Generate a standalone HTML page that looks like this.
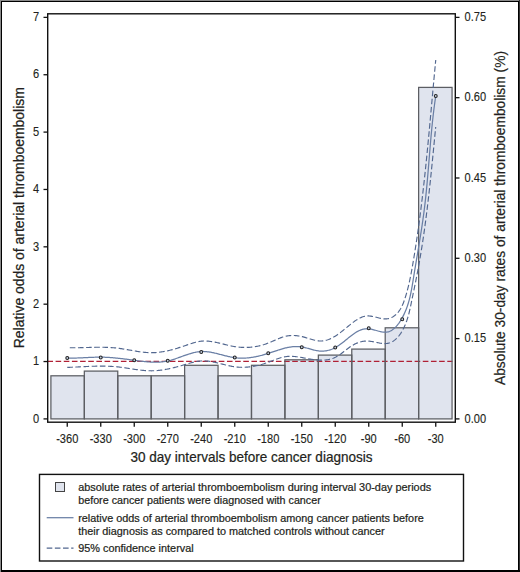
<!DOCTYPE html>
<html><head><meta charset="utf-8"><title>Chart</title>
<style>html,body{margin:0;padding:0;background:#fff;width:520px;height:572px;overflow:hidden}</style>
</head><body>
<svg width="520" height="572" viewBox="0 0 520 572" style="display:block">
<rect x="0" y="0" width="520" height="572" fill="#fff"/>
<rect x="50.90" y="375.80" width="33.43" height="43.10" fill="#e0e4ee"/>
<rect x="84.33" y="371.10" width="33.43" height="47.80" fill="#e0e4ee"/>
<rect x="117.76" y="375.80" width="33.43" height="43.10" fill="#e0e4ee"/>
<rect x="151.19" y="375.80" width="33.43" height="43.10" fill="#e0e4ee"/>
<rect x="184.62" y="365.30" width="33.43" height="53.60" fill="#e0e4ee"/>
<rect x="218.05" y="375.80" width="33.43" height="43.10" fill="#e0e4ee"/>
<rect x="251.48" y="365.30" width="33.43" height="53.60" fill="#e0e4ee"/>
<rect x="284.91" y="359.80" width="33.43" height="59.10" fill="#e0e4ee"/>
<rect x="318.34" y="355.10" width="33.43" height="63.80" fill="#e0e4ee"/>
<rect x="351.77" y="349.10" width="33.43" height="69.80" fill="#e0e4ee"/>
<rect x="385.20" y="327.80" width="33.43" height="91.10" fill="#e0e4ee"/>
<rect x="418.63" y="87.40" width="33.43" height="331.50" fill="#e0e4ee"/>
<line x1="47.7" y1="361.45" x2="452.5" y2="361.45" stroke="#b02035" stroke-width="1.3" stroke-dasharray="5.6 2.56" stroke-dashoffset="0.27"/>
<rect x="50.90" y="375.80" width="33.43" height="43.10" fill="none" stroke="#5c5e63" stroke-width="1.25"/>
<rect x="84.33" y="371.10" width="33.43" height="47.80" fill="none" stroke="#5c5e63" stroke-width="1.25"/>
<rect x="117.76" y="375.80" width="33.43" height="43.10" fill="none" stroke="#5c5e63" stroke-width="1.25"/>
<rect x="151.19" y="375.80" width="33.43" height="43.10" fill="none" stroke="#5c5e63" stroke-width="1.25"/>
<rect x="184.62" y="365.30" width="33.43" height="53.60" fill="none" stroke="#5c5e63" stroke-width="1.25"/>
<rect x="218.05" y="375.80" width="33.43" height="43.10" fill="none" stroke="#5c5e63" stroke-width="1.25"/>
<rect x="251.48" y="365.30" width="33.43" height="53.60" fill="none" stroke="#5c5e63" stroke-width="1.25"/>
<rect x="284.91" y="359.80" width="33.43" height="59.10" fill="none" stroke="#5c5e63" stroke-width="1.25"/>
<rect x="318.34" y="355.10" width="33.43" height="63.80" fill="none" stroke="#5c5e63" stroke-width="1.25"/>
<rect x="351.77" y="349.10" width="33.43" height="69.80" fill="none" stroke="#5c5e63" stroke-width="1.25"/>
<rect x="385.20" y="327.80" width="33.43" height="91.10" fill="none" stroke="#5c5e63" stroke-width="1.25"/>
<rect x="418.63" y="87.40" width="33.43" height="331.50" fill="none" stroke="#5c5e63" stroke-width="1.25"/>
<path d="M67.25,347.70 L68.12,347.72 L68.98,347.74 L69.85,347.75 L70.71,347.76 L71.58,347.77 L72.44,347.77 L73.31,347.77 L74.17,347.77 L75.03,347.77 L75.89,347.76 L76.76,347.75 L77.62,347.73 L78.48,347.72 L79.34,347.70 L80.20,347.68 L81.06,347.66 L81.92,347.64 L82.78,347.62 L83.64,347.60 L84.50,347.58 L85.36,347.55 L86.22,347.53 L87.08,347.50 L87.94,347.48 L88.80,347.45 L89.65,347.43 L90.51,347.41 L91.37,347.38 L92.23,347.36 L93.09,347.34 L93.94,347.33 L94.80,347.31 L95.66,347.30 L96.52,347.28 L97.37,347.27 L98.23,347.26 L99.09,347.26 L99.94,347.26 L100.80,347.26 L101.66,347.26 L102.51,347.27 L103.37,347.28 L104.23,347.29 L105.09,347.31 L105.94,347.34 L106.80,347.36 L107.66,347.40 L108.52,347.43 L109.37,347.48 L110.23,347.52 L111.09,347.57 L111.95,347.63 L112.81,347.70 L113.66,347.77 L114.52,347.84 L115.38,347.92 L116.24,348.01 L117.10,348.11 L117.96,348.21 L118.82,348.32 L119.68,348.44 L120.54,348.56 L121.40,348.69 L122.26,348.82 L123.12,348.95 L123.98,349.09 L124.84,349.24 L125.70,349.38 L126.56,349.53 L127.42,349.68 L128.28,349.83 L129.15,349.98 L130.01,350.14 L130.87,350.29 L131.73,350.44 L132.59,350.59 L133.45,350.74 L134.31,350.89 L135.16,351.04 L136.02,351.18 L136.88,351.32 L137.74,351.46 L138.60,351.59 L139.46,351.71 L140.31,351.83 L141.17,351.95 L142.02,352.06 L142.88,352.16 L143.74,352.25 L144.59,352.34 L145.44,352.42 L146.30,352.49 L147.15,352.55 L148.00,352.60 L148.85,352.64 L149.70,352.67 L150.55,352.69 L151.40,352.70 L152.25,352.69 L153.10,352.68 L153.94,352.65 L154.79,352.61 L155.63,352.56 L156.48,352.50 L157.32,352.43 L158.16,352.35 L159.00,352.25 L159.85,352.15 L160.69,352.04 L161.53,351.92 L162.37,351.79 L163.21,351.66 L164.04,351.51 L164.88,351.35 L165.72,351.19 L166.56,351.02 L167.39,350.84 L168.23,350.66 L169.06,350.46 L169.90,350.26 L170.73,350.05 L171.57,349.84 L172.40,349.62 L173.23,349.39 L174.07,349.16 L174.90,348.92 L175.73,348.68 L176.56,348.43 L177.39,348.18 L178.23,347.92 L179.06,347.66 L179.89,347.39 L180.72,347.12 L181.55,346.85 L182.38,346.57 L183.21,346.29 L184.04,346.00 L184.87,345.71 L185.70,345.42 L186.53,345.13 L187.36,344.84 L188.19,344.55 L189.02,344.27 L189.85,343.99 L190.68,343.71 L191.51,343.44 L192.34,343.18 L193.17,342.92 L194.00,342.68 L194.83,342.45 L195.66,342.23 L196.50,342.02 L197.33,341.84 L198.17,341.66 L199.00,341.51 L199.84,341.37 L200.67,341.26 L201.51,341.17 L202.35,341.10 L203.19,341.05 L204.03,341.02 L204.87,341.01 L205.71,341.02 L206.56,341.05 L207.40,341.10 L208.24,341.16 L209.09,341.24 L209.93,341.34 L210.78,341.45 L211.63,341.57 L212.48,341.70 L213.33,341.84 L214.17,342.00 L215.02,342.16 L215.87,342.34 L216.73,342.52 L217.58,342.71 L218.43,342.90 L219.28,343.10 L220.13,343.30 L220.99,343.51 L221.84,343.72 L222.69,343.93 L223.55,344.14 L224.40,344.36 L225.26,344.57 L226.11,344.78 L226.97,344.98 L227.82,345.19 L228.68,345.39 L229.53,345.58 L230.39,345.77 L231.24,345.95 L232.10,346.13 L232.96,346.29 L233.81,346.45 L234.67,346.59 L235.52,346.72 L236.38,346.85 L237.24,346.96 L238.09,347.06 L238.95,347.15 L239.80,347.22 L240.66,347.29 L241.51,347.34 L242.36,347.38 L243.22,347.41 L244.07,347.43 L244.92,347.44 L245.77,347.44 L246.62,347.42 L247.47,347.40 L248.32,347.36 L249.17,347.31 L250.02,347.25 L250.87,347.18 L251.71,347.09 L252.56,347.00 L253.40,346.89 L254.24,346.77 L255.08,346.64 L255.92,346.50 L256.76,346.35 L257.60,346.19 L258.43,346.01 L259.27,345.83 L260.10,345.63 L260.93,345.42 L261.76,345.20 L262.59,344.97 L263.41,344.72 L264.24,344.47 L265.06,344.20 L265.88,343.92 L266.70,343.63 L267.52,343.33 L268.33,343.02 L269.14,342.70 L269.95,342.36 L270.76,342.02 L271.57,341.68 L272.38,341.32 L273.18,340.97 L273.99,340.61 L274.79,340.26 L275.59,339.90 L276.40,339.55 L277.20,339.20 L278.01,338.86 L278.81,338.53 L279.62,338.21 L280.42,337.90 L281.23,337.60 L282.04,337.32 L282.85,337.05 L283.66,336.80 L284.48,336.57 L285.30,336.37 L286.12,336.18 L286.94,336.02 L287.77,335.87 L288.60,335.75 L289.43,335.65 L290.26,335.58 L291.10,335.52 L291.94,335.49 L292.78,335.47 L293.63,335.48 L294.48,335.51 L295.33,335.56 L296.19,335.63 L297.05,335.72 L297.91,335.83 L298.78,335.96 L299.65,336.11 L300.52,336.28 L301.40,336.47 L302.28,336.68 L303.17,336.91 L304.06,337.15 L304.95,337.40 L305.84,337.67 L306.73,337.94 L307.62,338.21 L308.52,338.49 L309.41,338.76 L310.30,339.03 L311.19,339.29 L312.08,339.55 L312.96,339.79 L313.84,340.01 L314.72,340.22 L315.59,340.41 L316.45,340.58 L317.31,340.72 L318.16,340.83 L319.01,340.91 L319.84,340.96 L320.67,340.97 L321.50,340.95 L322.31,340.90 L323.12,340.82 L323.92,340.71 L324.71,340.57 L325.50,340.41 L326.28,340.21 L327.05,339.99 L327.82,339.75 L328.59,339.48 L329.34,339.19 L330.10,338.88 L330.85,338.54 L331.59,338.19 L332.33,337.81 L333.06,337.42 L333.79,337.01 L334.52,336.58 L335.24,336.14 L335.96,335.68 L336.67,335.21 L337.39,334.72 L338.09,334.22 L338.80,333.72 L339.51,333.20 L340.21,332.67 L340.91,332.13 L341.61,331.59 L342.30,331.04 L343.00,330.49 L343.69,329.92 L344.39,329.36 L345.08,328.79 L345.77,328.23 L346.46,327.66 L347.16,327.09 L347.85,326.52 L348.54,325.95 L349.23,325.39 L349.93,324.83 L350.62,324.27 L351.32,323.72 L352.01,323.18 L352.71,322.64 L353.41,322.11 L354.12,321.60 L354.82,321.09 L355.53,320.60 L356.25,320.12 L356.96,319.66 L357.68,319.22 L358.41,318.80 L359.14,318.40 L359.88,318.02 L360.62,317.68 L361.38,317.35 L362.13,317.06 L362.90,316.79 L363.67,316.56 L364.45,316.36 L365.25,316.20 L366.05,316.08 L366.86,315.99 L367.68,315.94 L368.51,315.94 L369.35,315.98 L370.20,316.06 L371.06,316.17 L371.93,316.31 L372.80,316.48 L373.68,316.67 L374.57,316.87 L375.45,317.09 L376.34,317.31 L377.23,317.54 L378.12,317.76 L379.00,317.98 L379.88,318.19 L380.76,318.38 L381.63,318.55 L382.50,318.69 L383.35,318.81 L384.20,318.89 L385.04,318.93 L385.87,318.93 L386.68,318.88 L387.48,318.79 L388.27,318.65 L389.04,318.46 L389.80,318.23 L390.54,317.96 L391.27,317.65 L391.99,317.30 L392.68,316.92 L393.37,316.50 L394.04,316.04 L394.69,315.55 L395.33,315.03 L395.94,314.49 L396.55,313.91 L397.13,313.31 L397.70,312.68 L398.25,312.03 L398.78,311.36 L399.30,310.67 L399.79,309.95 L400.27,309.22 L400.73,308.48 L401.16,307.72 L401.58,306.95 L401.98,306.16 L402.36,305.37 L402.71,304.57 L403.05,303.76 L403.38,302.94 L403.69,302.12 L403.99,301.30 L404.28,300.47 L404.56,299.64 L404.84,298.81 L405.11,297.98 L405.37,297.15 L405.63,296.32 L405.89,295.48 L406.14,294.65 L406.38,293.82 L406.62,292.98 L406.86,292.15 L407.09,291.31 L407.31,290.48 L407.54,289.64 L407.75,288.81 L407.97,287.97 L408.18,287.13 L408.38,286.29 L408.58,285.46 L408.78,284.62 L408.97,283.78 L409.17,282.94 L409.35,282.10 L409.54,281.26 L409.72,280.42 L409.90,279.58 L410.07,278.73 L410.25,277.89 L410.42,277.05 L410.59,276.21 L410.75,275.36 L410.91,274.52 L411.08,273.68 L411.24,272.83 L411.39,271.99 L411.55,271.14 L411.70,270.30 L411.86,269.46 L412.01,268.61 L412.16,267.77 L412.31,266.92 L412.45,266.07 L412.60,265.23 L412.75,264.38 L412.89,263.54 L413.04,262.69 L413.18,261.84 L413.32,261.00 L413.47,260.15 L413.61,259.30 L413.75,258.46 L413.89,257.61 L414.03,256.76 L414.17,255.91 L414.31,255.07 L414.44,254.22 L414.58,253.37 L414.72,252.52 L414.85,251.67 L414.99,250.83 L415.12,249.98 L415.26,249.13 L415.39,248.28 L415.52,247.43 L415.66,246.58 L415.79,245.73 L415.92,244.88 L416.05,244.03 L416.18,243.18 L416.31,242.33 L416.43,241.48 L416.56,240.63 L416.69,239.78 L416.82,238.93 L416.94,238.08 L417.07,237.23 L417.19,236.38 L417.32,235.53 L417.44,234.68 L417.56,233.83 L417.68,232.98 L417.81,232.13 L417.93,231.28 L418.05,230.42 L418.17,229.57 L418.29,228.72 L418.41,227.87 L418.52,227.02 L418.64,226.16 L418.76,225.31 L418.88,224.46 L418.99,223.61 L419.11,222.75 L419.22,221.90 L419.34,221.05 L419.45,220.20 L419.57,219.34 L419.68,218.49 L419.79,217.64 L419.90,216.78 L420.02,215.93 L420.13,215.08 L420.24,214.22 L420.35,213.37 L420.46,212.52 L420.57,211.66 L420.67,210.81 L420.78,209.95 L420.89,209.10 L421.00,208.25 L421.10,207.39 L421.21,206.54 L421.32,205.68 L421.42,204.83 L421.53,203.97 L421.63,203.12 L421.74,202.26 L421.84,201.41 L421.94,200.55 L422.05,199.70 L422.15,198.84 L422.25,197.99 L422.35,197.13 L422.45,196.28 L422.55,195.42 L422.65,194.57 L422.75,193.71 L422.85,192.86 L422.95,192.00 L423.05,191.14 L423.15,190.29 L423.25,189.43 L423.34,188.58 L423.44,187.72 L423.54,186.86 L423.63,186.01 L423.73,185.15 L423.83,184.29 L423.92,183.44 L424.02,182.58 L424.11,181.73 L424.20,180.87 L424.30,180.01 L424.39,179.16 L424.49,178.30 L424.58,177.44 L424.67,176.59 L424.76,175.73 L424.85,174.87 L424.95,174.01 L425.04,173.16 L425.13,172.30 L425.22,171.44 L425.31,170.59 L425.40,169.73 L425.49,168.87 L425.58,168.01 L425.67,167.16 L425.76,166.30 L425.84,165.44 L425.93,164.58 L426.02,163.73 L426.11,162.87 L426.20,162.01 L426.28,161.15 L426.37,160.30 L426.46,159.44 L426.54,158.58 L426.63,157.72 L426.72,156.86 L426.80,156.01 L426.89,155.15 L426.97,154.29 L427.06,153.43 L427.14,152.58 L427.23,151.72 L427.31,150.86 L427.39,150.00 L427.48,149.14 L427.56,148.29 L427.65,147.43 L427.73,146.57 L427.81,145.71 L427.89,144.85 L427.98,143.99 L428.06,143.14 L428.14,142.28 L428.22,141.42 L428.31,140.56 L428.39,139.70 L428.47,138.85 L428.55,137.99 L428.63,137.13 L428.71,136.27 L428.79,135.41 L428.87,134.55 L428.96,133.70 L429.04,132.84 L429.12,131.98 L429.20,131.12 L429.28,130.26 L429.36,129.41 L429.44,128.55 L429.52,127.69 L429.60,126.83 L429.68,125.97 L429.75,125.11 L429.83,124.26 L429.91,123.40 L429.99,122.54 L430.07,121.68 L430.15,120.82 L430.23,119.97 L430.31,119.11 L430.39,118.25 L430.46,117.39 L430.54,116.53 L430.62,115.68 L430.70,114.82 L430.78,113.96 L430.86,113.10 L430.93,112.24 L431.01,111.39 L431.09,110.53 L431.17,109.67 L431.25,108.81 L431.32,107.96 L431.40,107.10 L431.48,106.24 L431.56,105.38 L431.64,104.52 L431.71,103.67 L431.79,102.81 L431.87,101.95 L431.95,101.09 L432.03,100.24 L432.10,99.38 L432.18,98.52 L432.26,97.66 L432.34,96.81 L432.41,95.95 L432.49,95.09 L432.57,94.24 L432.65,93.38 L432.73,92.52 L432.80,91.66 L432.88,90.81 L432.96,89.95 L433.04,89.09 L433.12,88.24 L433.20,87.38 L433.27,86.52 L433.35,85.67 L433.43,84.81 L433.51,83.95 L433.59,83.10 L433.67,82.24 L433.74,81.39 L433.82,80.53 L433.90,79.67 L433.98,78.82 L434.06,77.96 L434.14,77.10 L434.22,76.25 L434.30,75.39 L434.38,74.54 L434.46,73.68 L434.54,72.83 L434.62,71.97 L434.70,71.11 L434.78,70.26 L434.86,69.40 L434.94,68.55 L435.02,67.69 L435.10,66.84 L435.18,65.98 L435.26,65.13 L435.34,64.27 L435.42,63.42 L435.50,62.56 L435.58,61.71 L435.67,60.86 L435.75,60.00" fill="none" stroke="#52678f" stroke-width="1.15" stroke-dasharray="5.6 2.56" stroke-dashoffset="5.62"/>
<path d="M67.25,367.40 L68.05,367.37 L68.84,367.34 L69.64,367.31 L70.44,367.28 L71.23,367.25 L72.03,367.21 L72.83,367.18 L73.62,367.14 L74.42,367.11 L75.22,367.07 L76.01,367.03 L76.81,366.99 L77.60,366.95 L78.40,366.91 L79.19,366.87 L79.99,366.83 L80.78,366.79 L81.58,366.75 L82.37,366.71 L83.17,366.67 L83.96,366.64 L84.76,366.60 L85.55,366.56 L86.34,366.52 L87.14,366.49 L87.93,366.45 L88.73,366.42 L89.52,366.38 L90.31,366.35 L91.11,366.32 L91.90,366.29 L92.70,366.27 L93.49,366.24 L94.28,366.22 L95.08,366.20 L95.87,366.18 L96.66,366.16 L97.46,366.15 L98.25,366.13 L99.04,366.12 L99.84,366.12 L100.63,366.11 L101.42,366.11 L102.22,366.11 L103.01,366.12 L103.80,366.12 L104.60,366.14 L105.39,366.15 L106.19,366.17 L106.98,366.19 L107.77,366.22 L108.57,366.25 L109.36,366.28 L110.16,366.32 L110.95,366.36 L111.74,366.41 L112.54,366.46 L113.33,366.51 L114.13,366.57 L114.92,366.64 L115.72,366.71 L116.51,366.78 L117.31,366.86 L118.10,366.94 L118.90,367.03 L119.69,367.13 L120.49,367.23 L121.28,367.33 L122.08,367.44 L122.87,367.55 L123.67,367.66 L124.46,367.77 L125.26,367.89 L126.05,368.01 L126.85,368.13 L127.65,368.25 L128.44,368.37 L129.24,368.50 L130.03,368.62 L130.83,368.75 L131.62,368.87 L132.42,368.99 L133.21,369.11 L134.00,369.23 L134.80,369.35 L135.59,369.46 L136.39,369.58 L137.18,369.69 L137.97,369.80 L138.77,369.90 L139.56,370.00 L140.35,370.09 L141.14,370.19 L141.94,370.27 L142.73,370.35 L143.52,370.43 L144.31,370.50 L145.10,370.56 L145.89,370.62 L146.68,370.67 L147.47,370.71 L148.26,370.74 L149.05,370.77 L149.83,370.79 L150.62,370.80 L151.41,370.80 L152.19,370.79 L152.98,370.78 L153.76,370.75 L154.55,370.72 L155.33,370.67 L156.12,370.62 L156.90,370.57 L157.68,370.50 L158.47,370.42 L159.25,370.34 L160.03,370.25 L160.81,370.16 L161.59,370.06 L162.37,369.95 L163.15,369.83 L163.93,369.71 L164.71,369.58 L165.49,369.44 L166.27,369.30 L167.05,369.16 L167.83,369.00 L168.61,368.85 L169.38,368.68 L170.16,368.51 L170.94,368.34 L171.72,368.16 L172.49,367.98 L173.27,367.80 L174.05,367.61 L174.82,367.41 L175.60,367.21 L176.37,367.01 L177.15,366.81 L177.93,366.60 L178.70,366.39 L179.48,366.17 L180.25,365.96 L181.03,365.74 L181.80,365.52 L182.58,365.29 L183.35,365.06 L184.12,364.84 L184.90,364.61 L185.67,364.38 L186.45,364.14 L187.22,363.91 L188.00,363.69 L188.77,363.46 L189.55,363.24 L190.32,363.02 L191.10,362.80 L191.87,362.60 L192.65,362.40 L193.42,362.21 L194.20,362.02 L194.97,361.85 L195.75,361.69 L196.53,361.54 L197.31,361.41 L198.08,361.28 L198.86,361.18 L199.64,361.08 L200.42,361.01 L201.20,360.95 L201.98,360.91 L202.76,360.89 L203.54,360.89 L204.33,360.90 L205.11,360.93 L205.89,360.97 L206.67,361.03 L207.46,361.11 L208.24,361.19 L209.03,361.29 L209.81,361.40 L210.60,361.52 L211.38,361.65 L212.17,361.79 L212.96,361.94 L213.74,362.10 L214.53,362.26 L215.32,362.43 L216.10,362.61 L216.89,362.79 L217.68,362.98 L218.47,363.17 L219.26,363.36 L220.04,363.56 L220.83,363.76 L221.62,363.96 L222.41,364.16 L223.20,364.36 L223.99,364.56 L224.77,364.75 L225.56,364.95 L226.35,365.14 L227.14,365.32 L227.93,365.51 L228.72,365.68 L229.50,365.85 L230.29,366.02 L231.08,366.17 L231.87,366.32 L232.65,366.46 L233.44,366.59 L234.23,366.71 L235.01,366.82 L235.80,366.92 L236.58,367.00 L237.37,367.08 L238.15,367.14 L238.94,367.20 L239.72,367.24 L240.51,367.27 L241.29,367.29 L242.07,367.30 L242.86,367.29 L243.64,367.28 L244.42,367.26 L245.20,367.23 L245.98,367.19 L246.76,367.14 L247.54,367.07 L248.32,367.00 L249.10,366.92 L249.88,366.83 L250.66,366.73 L251.44,366.62 L252.22,366.51 L253.00,366.38 L253.77,366.24 L254.55,366.10 L255.32,365.95 L256.10,365.79 L256.88,365.62 L257.65,365.44 L258.42,365.26 L259.20,365.06 L259.97,364.86 L260.74,364.65 L261.52,364.44 L262.29,364.22 L263.06,363.98 L263.83,363.75 L264.60,363.50 L265.37,363.25 L266.14,362.99 L266.91,362.73 L267.67,362.45 L268.44,362.18 L269.21,361.89 L269.97,361.60 L270.74,361.31 L271.51,361.01 L272.27,360.72 L273.04,360.42 L273.80,360.13 L274.57,359.83 L275.33,359.55 L276.10,359.26 L276.86,358.98 L277.63,358.71 L278.39,358.45 L279.16,358.20 L279.93,357.96 L280.70,357.73 L281.47,357.52 L282.23,357.32 L283.01,357.14 L283.78,356.97 L284.55,356.82 L285.32,356.70 L286.10,356.59 L286.87,356.50 L287.65,356.43 L288.43,356.38 L289.21,356.35 L289.99,356.33 L290.77,356.33 L291.55,356.35 L292.33,356.37 L293.11,356.42 L293.90,356.47 L294.68,356.54 L295.47,356.61 L296.26,356.70 L297.04,356.80 L297.83,356.90 L298.62,357.01 L299.41,357.13 L300.20,357.26 L300.99,357.39 L301.78,357.53 L302.57,357.67 L303.36,357.81 L304.15,357.96 L304.95,358.11 L305.74,358.26 L306.53,358.40 L307.32,358.55 L308.12,358.70 L308.91,358.84 L309.70,358.98 L310.50,359.12 L311.29,359.25 L312.09,359.38 L312.88,359.50 L313.67,359.61 L314.47,359.72 L315.26,359.81 L316.06,359.90 L316.85,359.98 L317.64,360.04 L318.44,360.10 L319.23,360.14 L320.02,360.17 L320.81,360.19 L321.61,360.19 L322.39,360.17 L323.18,360.15 L323.97,360.10 L324.75,360.04 L325.53,359.97 L326.31,359.87 L327.08,359.76 L327.85,359.64 L328.61,359.49 L329.37,359.33 L330.13,359.14 L330.88,358.94 L331.62,358.72 L332.36,358.47 L333.09,358.21 L333.81,357.92 L334.53,357.61 L335.24,357.28 L335.95,356.93 L336.64,356.55 L337.33,356.16 L338.02,355.75 L338.69,355.32 L339.37,354.88 L340.03,354.42 L340.70,353.96 L341.36,353.48 L342.02,352.99 L342.68,352.50 L343.33,352.00 L343.98,351.50 L344.64,350.99 L345.29,350.49 L345.94,349.98 L346.59,349.47 L347.25,348.97 L347.91,348.48 L348.56,347.99 L349.23,347.51 L349.89,347.04 L350.56,346.58 L351.23,346.13 L351.91,345.70 L352.60,345.28 L353.29,344.88 L353.98,344.49 L354.68,344.13 L355.39,343.78 L356.10,343.45 L356.82,343.14 L357.55,342.85 L358.28,342.58 L359.01,342.33 L359.76,342.10 L360.50,341.89 L361.26,341.70 L362.02,341.54 L362.79,341.39 L363.56,341.28 L364.34,341.18 L365.13,341.11 L365.92,341.07 L366.72,341.05 L367.52,341.05 L368.33,341.09 L369.15,341.15 L369.97,341.23 L370.80,341.34 L371.64,341.46 L372.47,341.60 L373.31,341.75 L374.15,341.92 L374.99,342.09 L375.83,342.26 L376.66,342.44 L377.50,342.61 L378.33,342.78 L379.16,342.94 L379.98,343.09 L380.80,343.22 L381.61,343.34 L382.41,343.44 L383.21,343.51 L383.99,343.56 L384.77,343.58 L385.53,343.57 L386.28,343.52 L387.02,343.44 L387.74,343.32 L388.46,343.17 L389.16,342.98 L389.84,342.76 L390.52,342.50 L391.18,342.22 L391.83,341.90 L392.47,341.56 L393.09,341.19 L393.70,340.79 L394.30,340.36 L394.89,339.91 L395.47,339.44 L396.03,338.94 L396.58,338.42 L397.12,337.87 L397.65,337.31 L398.17,336.73 L398.67,336.13 L399.17,335.51 L399.65,334.87 L400.12,334.22 L400.58,333.56 L401.02,332.88 L401.46,332.19 L401.88,331.48 L402.30,330.77 L402.70,330.05 L403.09,329.31 L403.47,328.57 L403.84,327.83 L404.20,327.07 L404.54,326.32 L404.88,325.55 L405.21,324.79 L405.52,324.02 L405.83,323.25 L406.12,322.49 L406.40,321.72 L406.68,320.95 L406.94,320.18 L407.20,319.42 L407.45,318.65 L407.69,317.88 L407.92,317.11 L408.14,316.35 L408.36,315.58 L408.57,314.81 L408.77,314.04 L408.97,313.27 L409.16,312.51 L409.35,311.74 L409.53,310.97 L409.71,310.20 L409.89,309.43 L410.06,308.66 L410.22,307.89 L410.39,307.12 L410.55,306.36 L410.71,305.59 L410.87,304.81 L411.03,304.04 L411.19,303.27 L411.35,302.50 L411.51,301.73 L411.66,300.96 L411.82,300.18 L411.98,299.41 L412.14,298.64 L412.30,297.86 L412.46,297.09 L412.62,296.32 L412.78,295.54 L412.94,294.77 L413.10,293.99 L413.26,293.21 L413.42,292.44 L413.58,291.66 L413.74,290.88 L413.91,290.11 L414.07,289.33 L414.23,288.55 L414.39,287.77 L414.55,287.00 L414.71,286.22 L414.87,285.44 L415.03,284.66 L415.18,283.88 L415.34,283.10 L415.50,282.32 L415.66,281.54 L415.82,280.76 L415.97,279.98 L416.13,279.20 L416.28,278.42 L416.44,277.64 L416.59,276.86 L416.75,276.08 L416.90,275.29 L417.05,274.51 L417.20,273.73 L417.35,272.95 L417.50,272.17 L417.65,271.38 L417.80,270.60 L417.94,269.82 L418.09,269.04 L418.24,268.25 L418.38,267.47 L418.52,266.69 L418.67,265.90 L418.81,265.12 L418.95,264.34 L419.09,263.55 L419.23,262.77 L419.37,261.99 L419.51,261.20 L419.64,260.42 L419.78,259.63 L419.92,258.85 L420.05,258.07 L420.18,257.28 L420.32,256.50 L420.45,255.71 L420.58,254.93 L420.71,254.14 L420.84,253.36 L420.97,252.57 L421.10,251.79 L421.23,251.00 L421.36,250.22 L421.48,249.43 L421.61,248.64 L421.74,247.86 L421.86,247.07 L421.98,246.29 L422.11,245.50 L422.23,244.71 L422.35,243.93 L422.47,243.14 L422.59,242.35 L422.71,241.57 L422.83,240.78 L422.95,239.99 L423.07,239.21 L423.19,238.42 L423.30,237.63 L423.42,236.85 L423.53,236.06 L423.65,235.27 L423.76,234.48 L423.88,233.70 L423.99,232.91 L424.10,232.12 L424.21,231.33 L424.32,230.55 L424.44,229.76 L424.55,228.97 L424.65,228.18 L424.76,227.39 L424.87,226.60 L424.98,225.82 L425.09,225.03 L425.19,224.24 L425.30,223.45 L425.40,222.66 L425.51,221.87 L425.61,221.08 L425.72,220.30 L425.82,219.51 L425.92,218.72 L426.03,217.93 L426.13,217.14 L426.23,216.35 L426.33,215.56 L426.43,214.77 L426.53,213.98 L426.63,213.19 L426.73,212.40 L426.83,211.61 L426.92,210.82 L427.02,210.03 L427.12,209.24 L427.22,208.45 L427.31,207.66 L427.41,206.87 L427.50,206.08 L427.60,205.29 L427.69,204.50 L427.79,203.71 L427.88,202.92 L427.97,202.13 L428.07,201.34 L428.16,200.55 L428.25,199.76 L428.34,198.97 L428.43,198.18 L428.52,197.39 L428.61,196.60 L428.70,195.81 L428.79,195.02 L428.88,194.23 L428.97,193.44 L429.06,192.65 L429.15,191.86 L429.24,191.07 L429.32,190.27 L429.41,189.48 L429.50,188.69 L429.59,187.90 L429.67,187.11 L429.76,186.32 L429.84,185.53 L429.93,184.74 L430.01,183.95 L430.10,183.16 L430.18,182.36 L430.27,181.57 L430.35,180.78 L430.44,179.99 L430.52,179.20 L430.60,178.41 L430.69,177.62 L430.77,176.83 L430.85,176.04 L430.93,175.24 L431.01,174.45 L431.10,173.66 L431.18,172.87 L431.26,172.08 L431.34,171.29 L431.42,170.50 L431.50,169.70 L431.58,168.91 L431.66,168.12 L431.74,167.33 L431.82,166.54 L431.90,165.75 L431.98,164.96 L432.06,164.17 L432.14,163.37 L432.22,162.58 L432.30,161.79 L432.38,161.00 L432.46,160.21 L432.54,159.42 L432.61,158.63 L432.69,157.83 L432.77,157.04 L432.85,156.25 L432.93,155.46 L433.00,154.67 L433.08,153.88 L433.16,153.09 L433.24,152.30 L433.31,151.50 L433.39,150.71 L433.47,149.92 L433.55,149.13 L433.62,148.34 L433.70,147.55 L433.78,146.76 L433.85,145.97 L433.93,145.18 L434.01,144.38 L434.09,143.59 L434.16,142.80 L434.24,142.01 L434.32,141.22 L434.39,140.43 L434.47,139.64 L434.55,138.85 L434.62,138.06 L434.70,137.27 L434.78,136.48 L434.85,135.69 L434.93,134.89 L435.01,134.10 L435.08,133.31 L435.16,132.52 L435.24,131.73 L435.32,130.94 L435.39,130.15 L435.47,129.36 L435.55,128.57 L435.62,127.78 L435.70,126.99" fill="none" stroke="#52678f" stroke-width="1.15" stroke-dasharray="5.6 2.56" stroke-dashoffset="0"/>
<path d="M67.25,358.00 L68.07,358.03 L68.89,358.05 L69.71,358.07 L70.53,358.08 L71.35,358.09 L72.18,358.09 L73.00,358.08 L73.82,358.08 L74.65,358.06 L75.47,358.05 L76.29,358.03 L77.12,358.00 L77.94,357.98 L78.77,357.95 L79.60,357.92 L80.42,357.88 L81.25,357.85 L82.08,357.81 L82.90,357.77 L83.73,357.73 L84.56,357.69 L85.38,357.65 L86.21,357.61 L87.04,357.57 L87.87,357.53 L88.69,357.49 L89.52,357.45 L90.35,357.41 L91.17,357.37 L92.00,357.34 L92.83,357.31 L93.66,357.28 L94.48,357.25 L95.31,357.23 L96.13,357.20 L96.96,357.19 L97.79,357.17 L98.61,357.16 L99.44,357.16 L100.26,357.16 L101.09,357.16 L101.91,357.17 L102.73,357.19 L103.56,357.21 L104.38,357.23 L105.20,357.26 L106.02,357.30 L106.85,357.34 L107.67,357.38 L108.49,357.43 L109.31,357.48 L110.13,357.53 L110.95,357.59 L111.77,357.65 L112.59,357.72 L113.41,357.79 L114.23,357.86 L115.05,357.93 L115.87,358.01 L116.69,358.09 L117.51,358.18 L118.33,358.26 L119.15,358.35 L119.96,358.44 L120.78,358.54 L121.60,358.63 L122.42,358.73 L123.24,358.83 L124.06,358.93 L124.88,359.03 L125.69,359.14 L126.51,359.24 L127.33,359.35 L128.15,359.46 L128.97,359.57 L129.79,359.68 L130.61,359.79 L131.42,359.90 L132.24,360.01 L133.06,360.12 L133.88,360.23 L134.70,360.35 L135.52,360.46 L136.34,360.57 L137.16,360.68 L137.98,360.79 L138.80,360.90 L139.62,361.00 L140.44,361.10 L141.26,361.21 L142.08,361.30 L142.90,361.40 L143.72,361.49 L144.54,361.58 L145.36,361.66 L146.18,361.74 L147.00,361.81 L147.82,361.88 L148.63,361.94 L149.45,362.00 L150.27,362.05 L151.09,362.09 L151.91,362.13 L152.72,362.16 L153.54,362.18 L154.35,362.20 L155.17,362.20 L155.98,362.20 L156.80,362.19 L157.61,362.16 L158.43,362.13 L159.24,362.09 L160.05,362.04 L160.86,361.98 L161.67,361.90 L162.48,361.82 L163.29,361.72 L164.10,361.61 L164.91,361.49 L165.71,361.36 L166.52,361.21 L167.32,361.05 L168.13,360.88 L168.93,360.69 L169.73,360.49 L170.54,360.28 L171.34,360.05 L172.14,359.82 L172.94,359.58 L173.73,359.33 L174.53,359.07 L175.33,358.81 L176.13,358.53 L176.93,358.26 L177.72,357.98 L178.52,357.69 L179.31,357.40 L180.11,357.11 L180.91,356.82 L181.70,356.53 L182.50,356.24 L183.29,355.95 L184.09,355.67 L184.88,355.38 L185.68,355.10 L186.48,354.82 L187.27,354.55 L188.07,354.29 L188.86,354.03 L189.66,353.78 L190.46,353.54 L191.26,353.31 L192.05,353.08 L192.85,352.87 L193.65,352.67 L194.45,352.49 L195.25,352.31 L196.05,352.16 L196.86,352.01 L197.66,351.88 L198.46,351.77 L199.27,351.68 L200.07,351.60 L200.88,351.55 L201.69,351.51 L202.50,351.49 L203.31,351.49 L204.12,351.51 L204.93,351.55 L205.74,351.61 L206.55,351.68 L207.37,351.76 L208.18,351.86 L209.00,351.97 L209.82,352.10 L210.63,352.23 L211.45,352.38 L212.27,352.54 L213.09,352.71 L213.90,352.88 L214.72,353.06 L215.54,353.25 L216.36,353.45 L217.18,353.65 L218.00,353.85 L218.82,354.06 L219.64,354.27 L220.46,354.49 L221.28,354.70 L222.11,354.92 L222.93,355.13 L223.75,355.35 L224.57,355.56 L225.39,355.77 L226.21,355.97 L227.03,356.17 L227.84,356.36 L228.66,356.55 L229.48,356.73 L230.30,356.91 L231.12,357.07 L231.93,357.23 L232.75,357.38 L233.56,357.51 L234.38,357.63 L235.19,357.74 L236.01,357.84 L236.82,357.92 L237.63,358.00 L238.44,358.05 L239.25,358.10 L240.06,358.14 L240.87,358.16 L241.68,358.17 L242.49,358.17 L243.29,358.16 L244.10,358.13 L244.90,358.10 L245.71,358.06 L246.51,358.00 L247.32,357.94 L248.12,357.87 L248.92,357.78 L249.72,357.69 L250.53,357.59 L251.33,357.47 L252.13,357.35 L252.93,357.23 L253.73,357.09 L254.53,356.94 L255.32,356.79 L256.12,356.63 L256.92,356.46 L257.72,356.29 L258.51,356.10 L259.31,355.91 L260.11,355.72 L260.90,355.51 L261.70,355.31 L262.49,355.09 L263.29,354.87 L264.08,354.65 L264.88,354.41 L265.67,354.18 L266.46,353.94 L267.26,353.69 L268.05,353.44 L268.84,353.19 L269.64,352.93 L270.43,352.67 L271.22,352.41 L272.01,352.14 L272.81,351.87 L273.60,351.61 L274.39,351.34 L275.18,351.08 L275.98,350.81 L276.77,350.55 L277.56,350.29 L278.35,350.03 L279.15,349.78 L279.94,349.53 L280.74,349.29 L281.53,349.06 L282.33,348.83 L283.12,348.60 L283.92,348.39 L284.71,348.18 L285.51,347.98 L286.31,347.80 L287.11,347.62 L287.91,347.45 L288.71,347.30 L289.51,347.16 L290.31,347.03 L291.11,346.91 L291.91,346.81 L292.72,346.72 L293.52,346.65 L294.33,346.59 L295.14,346.56 L295.95,346.53 L296.76,346.53 L297.57,346.54 L298.38,346.58 L299.19,346.63 L300.01,346.71 L300.82,346.80 L301.64,346.92 L302.46,347.06 L303.28,347.22 L304.10,347.40 L304.92,347.59 L305.75,347.79 L306.57,348.01 L307.39,348.23 L308.22,348.46 L309.04,348.70 L309.87,348.93 L310.69,349.16 L311.52,349.40 L312.34,349.62 L313.17,349.84 L313.99,350.05 L314.82,350.25 L315.64,350.43 L316.46,350.59 L317.28,350.74 L318.10,350.86 L318.92,350.96 L319.73,351.04 L320.55,351.09 L321.36,351.11 L322.17,351.12 L322.98,351.09 L323.78,351.04 L324.58,350.97 L325.38,350.88 L326.18,350.76 L326.97,350.61 L327.76,350.45 L328.54,350.26 L329.32,350.05 L330.09,349.81 L330.86,349.56 L331.63,349.28 L332.39,348.98 L333.14,348.66 L333.89,348.31 L334.63,347.95 L335.36,347.56 L336.09,347.15 L336.81,346.73 L337.53,346.28 L338.24,345.82 L338.95,345.35 L339.65,344.86 L340.35,344.36 L341.05,343.84 L341.74,343.32 L342.42,342.79 L343.11,342.25 L343.79,341.71 L344.47,341.16 L345.15,340.60 L345.83,340.05 L346.50,339.49 L347.18,338.93 L347.85,338.38 L348.53,337.83 L349.20,337.28 L349.88,336.74 L350.55,336.20 L351.23,335.68 L351.91,335.16 L352.59,334.65 L353.27,334.16 L353.96,333.67 L354.64,333.21 L355.34,332.76 L356.03,332.32 L356.73,331.91 L357.43,331.51 L358.14,331.13 L358.85,330.78 L359.57,330.45 L360.30,330.15 L361.03,329.87 L361.76,329.62 L362.50,329.40 L363.25,329.21 L364.01,329.04 L364.78,328.92 L365.55,328.82 L366.33,328.76 L367.12,328.74 L367.92,328.76 L368.73,328.81 L369.54,328.90 L370.37,329.03 L371.20,329.19 L372.04,329.37 L372.88,329.58 L373.73,329.80 L374.58,330.03 L375.43,330.27 L376.28,330.52 L377.13,330.76 L377.98,331.00 L378.83,331.23 L379.67,331.45 L380.51,331.65 L381.34,331.83 L382.16,331.98 L382.98,332.10 L383.78,332.19 L384.58,332.24 L385.36,332.24 L386.13,332.20 L386.89,332.11 L387.63,331.96 L388.36,331.78 L389.08,331.54 L389.78,331.27 L390.47,330.95 L391.15,330.60 L391.82,330.20 L392.47,329.78 L393.10,329.31 L393.73,328.82 L394.34,328.30 L394.94,327.75 L395.53,327.17 L396.10,326.57 L396.67,325.95 L397.21,325.30 L397.75,324.64 L398.28,323.96 L398.79,323.27 L399.29,322.56 L399.77,321.84 L400.25,321.11 L400.71,320.37 L401.16,319.63 L401.60,318.89 L402.03,318.14 L402.45,317.39 L402.85,316.63 L403.24,315.88 L403.63,315.12 L404.00,314.36 L404.36,313.59 L404.71,312.83 L405.05,312.06 L405.38,311.29 L405.70,310.52 L406.02,309.74 L406.32,308.96 L406.61,308.19 L406.90,307.40 L407.18,306.62 L407.45,305.84 L407.71,305.05 L407.96,304.26 L408.21,303.48 L408.45,302.68 L408.68,301.89 L408.90,301.10 L409.12,300.30 L409.34,299.51 L409.54,298.71 L409.74,297.91 L409.94,297.11 L410.13,296.30 L410.31,295.50 L410.49,294.70 L410.67,293.89 L410.84,293.08 L411.00,292.28 L411.16,291.47 L411.32,290.66 L411.48,289.85 L411.63,289.04 L411.78,288.23 L411.92,287.42 L412.07,286.60 L412.21,285.79 L412.35,284.98 L412.48,284.16 L412.62,283.35 L412.75,282.53 L412.89,281.72 L413.02,280.90 L413.15,280.09 L413.28,279.27 L413.41,278.46 L413.54,277.64 L413.67,276.83 L413.80,276.01 L413.93,275.20 L414.06,274.38 L414.19,273.57 L414.33,272.75 L414.46,271.94 L414.59,271.12 L414.73,270.31 L414.86,269.49 L415.00,268.68 L415.13,267.86 L415.27,267.05 L415.40,266.23 L415.54,265.42 L415.67,264.61 L415.81,263.79 L415.94,262.98 L416.08,262.16 L416.22,261.35 L416.35,260.54 L416.49,259.72 L416.63,258.91 L416.76,258.10 L416.90,257.28 L417.04,256.47 L417.18,255.65 L417.31,254.84 L417.45,254.03 L417.59,253.21 L417.72,252.40 L417.86,251.59 L418.00,250.77 L418.13,249.96 L418.27,249.15 L418.41,248.33 L418.54,247.52 L418.68,246.71 L418.81,245.89 L418.95,245.08 L419.08,244.27 L419.22,243.45 L419.35,242.64 L419.49,241.82 L419.62,241.01 L419.75,240.20 L419.89,239.38 L420.02,238.57 L420.15,237.76 L420.28,236.94 L420.41,236.13 L420.54,235.31 L420.67,234.50 L420.80,233.69 L420.93,232.87 L421.06,232.06 L421.19,231.24 L421.31,230.43 L421.44,229.62 L421.57,228.80 L421.69,227.99 L421.82,227.17 L421.94,226.36 L422.06,225.54 L422.18,224.73 L422.30,223.91 L422.42,223.10 L422.54,222.28 L422.66,221.47 L422.78,220.65 L422.90,219.84 L423.01,219.02 L423.13,218.20 L423.24,217.39 L423.35,216.57 L423.47,215.76 L423.58,214.94 L423.69,214.12 L423.80,213.31 L423.90,212.49 L424.01,211.67 L424.11,210.85 L424.22,210.04 L424.32,209.22 L424.42,208.40 L424.52,207.58 L424.62,206.77 L424.72,205.95 L424.82,205.13 L424.92,204.31 L425.01,203.49 L425.11,202.67 L425.20,201.85 L425.29,201.04 L425.38,200.22 L425.47,199.40 L425.56,198.58 L425.65,197.76 L425.74,196.94 L425.82,196.12 L425.91,195.30 L425.99,194.48 L426.08,193.66 L426.16,192.84 L426.25,192.02 L426.33,191.20 L426.41,190.38 L426.49,189.56 L426.57,188.74 L426.65,187.91 L426.73,187.09 L426.80,186.27 L426.88,185.45 L426.96,184.63 L427.03,183.81 L427.11,182.99 L427.18,182.17 L427.26,181.34 L427.33,180.52 L427.40,179.70 L427.48,178.88 L427.55,178.06 L427.62,177.24 L427.69,176.41 L427.76,175.59 L427.83,174.77 L427.90,173.95 L427.97,173.13 L428.04,172.30 L428.11,171.48 L428.18,170.66 L428.25,169.84 L428.32,169.01 L428.39,168.19 L428.45,167.37 L428.52,166.55 L428.59,165.72 L428.66,164.90 L428.72,164.08 L428.79,163.26 L428.86,162.43 L428.93,161.61 L428.99,160.79 L429.06,159.97 L429.13,159.14 L429.19,158.32 L429.26,157.50 L429.33,156.68 L429.40,155.85 L429.46,155.03 L429.53,154.21 L429.60,153.39 L429.67,152.56 L429.73,151.74 L429.80,150.92 L429.87,150.10 L429.94,149.27 L430.01,148.45 L430.07,147.63 L430.14,146.81 L430.21,145.98 L430.28,145.16 L430.35,144.34 L430.42,143.52 L430.49,142.70 L430.57,141.87 L430.64,141.05 L430.71,140.23 L430.78,139.41 L430.85,138.59 L430.93,137.76 L431.00,136.94 L431.08,136.12 L431.15,135.30 L431.23,134.48 L431.30,133.66 L431.38,132.83 L431.46,132.01 L431.53,131.19 L431.61,130.37 L431.69,129.55 L431.77,128.73 L431.85,127.91 L431.93,127.09 L432.01,126.27 L432.10,125.45 L432.18,124.63 L432.26,123.81 L432.35,122.99 L432.44,122.17 L432.52,121.35 L432.61,120.53 L432.70,119.71 L432.79,118.89 L432.88,118.07 L432.97,117.25 L433.06,116.43 L433.16,115.61 L433.25,114.79 L433.35,113.97 L433.44,113.15 L433.54,112.33 L433.64,111.52 L433.74,110.70 L433.84,109.88 L433.94,109.06 L434.05,108.24 L434.15,107.43 L434.26,106.61 L434.36,105.79 L434.47,104.98 L434.58,104.16 L434.69,103.34 L434.80,102.53 L434.92,101.71 L435.03,100.89 L435.15,100.08 L435.27,99.26 L435.38,98.45 L435.50,97.63 L435.63,96.82 L435.75,96.00" fill="none" stroke="#6a7fa5" stroke-width="1.25"/>
<circle cx="67.25" cy="358.00" r="1.45" fill="#c0cadb" stroke="#222" stroke-width="1.05"/>
<circle cx="100.75" cy="357.50" r="1.45" fill="#c0cadb" stroke="#222" stroke-width="1.05"/>
<circle cx="134.25" cy="360.30" r="1.45" fill="#c0cadb" stroke="#222" stroke-width="1.05"/>
<circle cx="167.75" cy="360.80" r="1.45" fill="#c0cadb" stroke="#222" stroke-width="1.05"/>
<circle cx="201.25" cy="352.00" r="1.45" fill="#c0cadb" stroke="#222" stroke-width="1.05"/>
<circle cx="234.75" cy="357.50" r="1.45" fill="#c0cadb" stroke="#222" stroke-width="1.05"/>
<circle cx="268.25" cy="353.20" r="1.45" fill="#c0cadb" stroke="#222" stroke-width="1.05"/>
<circle cx="301.75" cy="347.20" r="1.45" fill="#c0cadb" stroke="#222" stroke-width="1.05"/>
<circle cx="335.25" cy="347.50" r="1.45" fill="#c0cadb" stroke="#222" stroke-width="1.05"/>
<circle cx="368.75" cy="328.20" r="1.45" fill="#c0cadb" stroke="#222" stroke-width="1.05"/>
<circle cx="402.25" cy="319.20" r="1.45" fill="#c0cadb" stroke="#222" stroke-width="1.05"/>
<circle cx="435.75" cy="96.00" r="1.45" fill="#c0cadb" stroke="#222" stroke-width="1.05"/>
<rect x="47.7" y="13.8" width="407.6" height="408.4" fill="none" stroke="#111" stroke-width="1.4"/>
<line x1="43.5" y1="418.90" x2="47.7" y2="418.90" stroke="#111" stroke-width="1.3"/>
<text transform="translate(39.1,422.60) scale(0.915,1)" font-family='"Liberation Sans", sans-serif' font-size="12.1" fill="#231f20" stroke="#231f20" stroke-width="0.12" text-anchor="end">0</text>
<line x1="43.5" y1="361.54" x2="47.7" y2="361.54" stroke="#111" stroke-width="1.3"/>
<text transform="translate(39.1,365.24) scale(0.915,1)" font-family='"Liberation Sans", sans-serif' font-size="12.1" fill="#231f20" stroke="#231f20" stroke-width="0.12" text-anchor="end">1</text>
<line x1="43.5" y1="304.18" x2="47.7" y2="304.18" stroke="#111" stroke-width="1.3"/>
<text transform="translate(39.1,307.88) scale(0.915,1)" font-family='"Liberation Sans", sans-serif' font-size="12.1" fill="#231f20" stroke="#231f20" stroke-width="0.12" text-anchor="end">2</text>
<line x1="43.5" y1="246.82" x2="47.7" y2="246.82" stroke="#111" stroke-width="1.3"/>
<text transform="translate(39.1,250.52) scale(0.915,1)" font-family='"Liberation Sans", sans-serif' font-size="12.1" fill="#231f20" stroke="#231f20" stroke-width="0.12" text-anchor="end">3</text>
<line x1="43.5" y1="189.46" x2="47.7" y2="189.46" stroke="#111" stroke-width="1.3"/>
<text transform="translate(39.1,193.16) scale(0.915,1)" font-family='"Liberation Sans", sans-serif' font-size="12.1" fill="#231f20" stroke="#231f20" stroke-width="0.12" text-anchor="end">4</text>
<line x1="43.5" y1="132.10" x2="47.7" y2="132.10" stroke="#111" stroke-width="1.3"/>
<text transform="translate(39.1,135.80) scale(0.915,1)" font-family='"Liberation Sans", sans-serif' font-size="12.1" fill="#231f20" stroke="#231f20" stroke-width="0.12" text-anchor="end">5</text>
<line x1="43.5" y1="74.74" x2="47.7" y2="74.74" stroke="#111" stroke-width="1.3"/>
<text transform="translate(39.1,78.44) scale(0.915,1)" font-family='"Liberation Sans", sans-serif' font-size="12.1" fill="#231f20" stroke="#231f20" stroke-width="0.12" text-anchor="end">6</text>
<line x1="43.5" y1="17.38" x2="47.7" y2="17.38" stroke="#111" stroke-width="1.3"/>
<text transform="translate(39.1,21.08) scale(0.915,1)" font-family='"Liberation Sans", sans-serif' font-size="12.1" fill="#231f20" stroke="#231f20" stroke-width="0.12" text-anchor="end">7</text>
<line x1="455.3" y1="418.90" x2="459.5" y2="418.90" stroke="#111" stroke-width="1.3"/>
<text transform="translate(464.6,422.60) scale(0.915,1)" font-family='"Liberation Sans", sans-serif' font-size="12.1" fill="#231f20" stroke="#231f20" stroke-width="0.12">0.00</text>
<line x1="455.3" y1="338.60" x2="459.5" y2="338.60" stroke="#111" stroke-width="1.3"/>
<text transform="translate(464.6,342.30) scale(0.915,1)" font-family='"Liberation Sans", sans-serif' font-size="12.1" fill="#231f20" stroke="#231f20" stroke-width="0.12">0.15</text>
<line x1="455.3" y1="258.29" x2="459.5" y2="258.29" stroke="#111" stroke-width="1.3"/>
<text transform="translate(464.6,261.99) scale(0.915,1)" font-family='"Liberation Sans", sans-serif' font-size="12.1" fill="#231f20" stroke="#231f20" stroke-width="0.12">0.30</text>
<line x1="455.3" y1="177.99" x2="459.5" y2="177.99" stroke="#111" stroke-width="1.3"/>
<text transform="translate(464.6,181.69) scale(0.915,1)" font-family='"Liberation Sans", sans-serif' font-size="12.1" fill="#231f20" stroke="#231f20" stroke-width="0.12">0.45</text>
<line x1="455.3" y1="97.68" x2="459.5" y2="97.68" stroke="#111" stroke-width="1.3"/>
<text transform="translate(464.6,101.38) scale(0.915,1)" font-family='"Liberation Sans", sans-serif' font-size="12.1" fill="#231f20" stroke="#231f20" stroke-width="0.12">0.60</text>
<line x1="455.3" y1="17.38" x2="459.5" y2="17.38" stroke="#111" stroke-width="1.3"/>
<text transform="translate(464.6,21.08) scale(0.915,1)" font-family='"Liberation Sans", sans-serif' font-size="12.1" fill="#231f20" stroke="#231f20" stroke-width="0.12">0.75</text>
<line x1="67.25" y1="422.2" x2="67.25" y2="426.7" stroke="#111" stroke-width="1.3"/>
<text transform="translate(67.25,442.6) scale(0.915,1)" font-family='"Liberation Sans", sans-serif' font-size="12.1" fill="#231f20" stroke="#231f20" stroke-width="0.12" text-anchor="middle">-360</text>
<line x1="100.75" y1="422.2" x2="100.75" y2="426.7" stroke="#111" stroke-width="1.3"/>
<text transform="translate(100.75,442.6) scale(0.915,1)" font-family='"Liberation Sans", sans-serif' font-size="12.1" fill="#231f20" stroke="#231f20" stroke-width="0.12" text-anchor="middle">-330</text>
<line x1="134.25" y1="422.2" x2="134.25" y2="426.7" stroke="#111" stroke-width="1.3"/>
<text transform="translate(134.25,442.6) scale(0.915,1)" font-family='"Liberation Sans", sans-serif' font-size="12.1" fill="#231f20" stroke="#231f20" stroke-width="0.12" text-anchor="middle">-300</text>
<line x1="167.75" y1="422.2" x2="167.75" y2="426.7" stroke="#111" stroke-width="1.3"/>
<text transform="translate(167.75,442.6) scale(0.915,1)" font-family='"Liberation Sans", sans-serif' font-size="12.1" fill="#231f20" stroke="#231f20" stroke-width="0.12" text-anchor="middle">-270</text>
<line x1="201.25" y1="422.2" x2="201.25" y2="426.7" stroke="#111" stroke-width="1.3"/>
<text transform="translate(201.25,442.6) scale(0.915,1)" font-family='"Liberation Sans", sans-serif' font-size="12.1" fill="#231f20" stroke="#231f20" stroke-width="0.12" text-anchor="middle">-240</text>
<line x1="234.75" y1="422.2" x2="234.75" y2="426.7" stroke="#111" stroke-width="1.3"/>
<text transform="translate(234.75,442.6) scale(0.915,1)" font-family='"Liberation Sans", sans-serif' font-size="12.1" fill="#231f20" stroke="#231f20" stroke-width="0.12" text-anchor="middle">-210</text>
<line x1="268.25" y1="422.2" x2="268.25" y2="426.7" stroke="#111" stroke-width="1.3"/>
<text transform="translate(268.25,442.6) scale(0.915,1)" font-family='"Liberation Sans", sans-serif' font-size="12.1" fill="#231f20" stroke="#231f20" stroke-width="0.12" text-anchor="middle">-180</text>
<line x1="301.75" y1="422.2" x2="301.75" y2="426.7" stroke="#111" stroke-width="1.3"/>
<text transform="translate(301.75,442.6) scale(0.915,1)" font-family='"Liberation Sans", sans-serif' font-size="12.1" fill="#231f20" stroke="#231f20" stroke-width="0.12" text-anchor="middle">-150</text>
<line x1="335.25" y1="422.2" x2="335.25" y2="426.7" stroke="#111" stroke-width="1.3"/>
<text transform="translate(335.25,442.6) scale(0.915,1)" font-family='"Liberation Sans", sans-serif' font-size="12.1" fill="#231f20" stroke="#231f20" stroke-width="0.12" text-anchor="middle">-120</text>
<line x1="368.75" y1="422.2" x2="368.75" y2="426.7" stroke="#111" stroke-width="1.3"/>
<text transform="translate(368.75,442.6) scale(0.915,1)" font-family='"Liberation Sans", sans-serif' font-size="12.1" fill="#231f20" stroke="#231f20" stroke-width="0.12" text-anchor="middle">-90</text>
<line x1="402.25" y1="422.2" x2="402.25" y2="426.7" stroke="#111" stroke-width="1.3"/>
<text transform="translate(402.25,442.6) scale(0.915,1)" font-family='"Liberation Sans", sans-serif' font-size="12.1" fill="#231f20" stroke="#231f20" stroke-width="0.12" text-anchor="middle">-60</text>
<line x1="435.75" y1="422.2" x2="435.75" y2="426.7" stroke="#111" stroke-width="1.3"/>
<text transform="translate(435.75,442.6) scale(0.915,1)" font-family='"Liberation Sans", sans-serif' font-size="12.1" fill="#231f20" stroke="#231f20" stroke-width="0.12" text-anchor="middle">-30</text>
<text x="130.5" y="462.2" font-family='"Liberation Sans", sans-serif' font-size="14.5" fill="#231f20" stroke="#231f20" stroke-width="0.22" textLength="242" lengthAdjust="spacingAndGlyphs">30 day intervals before cancer diagnosis</text>
<text transform="translate(23.6,348.2) rotate(-90)" x="0" y="0" font-family='"Liberation Sans", sans-serif' font-size="14.5" fill="#231f20" stroke="#231f20" stroke-width="0.22" textLength="261" lengthAdjust="spacingAndGlyphs">Relative odds of arterial thromboembolism</text>
<text transform="translate(505.4,385) rotate(-90)" x="0" y="0" font-family='"Liberation Sans", sans-serif' font-size="14.5" fill="#231f20" stroke="#231f20" stroke-width="0.22" textLength="334" lengthAdjust="spacingAndGlyphs">Absolute 30-day rates of arterial thromboembolism (%)</text>
<rect x="39.5" y="474.4" width="424" height="86.6" fill="none" stroke="#111" stroke-width="1.4"/>
<rect x="55.5" y="482.5" width="9" height="9" fill="#e0e4ee" stroke="#444" stroke-width="1"/>
<line x1="46.7" y1="517.7" x2="73.5" y2="517.7" stroke="#6a7fa5" stroke-width="1.25"/>
<line x1="46.7" y1="548.1" x2="73.5" y2="548.1" stroke="#52678f" stroke-width="1.15" stroke-dasharray="5.6 2.56"/>
<text x="78.2" y="490.8" font-family='"Liberation Sans", sans-serif' font-size="10.8" fill="#231f20" stroke="#231f20" stroke-width="0.22" textLength="353" lengthAdjust="spacingAndGlyphs">absolute rates of arterial thromboembolism during interval 30-day periods</text>
<text x="78.2" y="504.0" font-family='"Liberation Sans", sans-serif' font-size="10.8" fill="#231f20" stroke="#231f20" stroke-width="0.22" textLength="242.6" lengthAdjust="spacingAndGlyphs">before cancer patients were diagnosed with cancer</text>
<text x="78.2" y="521.6" font-family='"Liberation Sans", sans-serif' font-size="10.8" fill="#231f20" stroke="#231f20" stroke-width="0.22" textLength="345.6" lengthAdjust="spacingAndGlyphs">relative odds of arterial thromboembolism among cancer patients before</text>
<text x="78.2" y="535.0" font-family='"Liberation Sans", sans-serif' font-size="10.8" fill="#231f20" stroke="#231f20" stroke-width="0.22" textLength="306.5" lengthAdjust="spacingAndGlyphs">their diagnosis as compared to matched controls without cancer</text>
<text x="78.2" y="551.9" font-family='"Liberation Sans", sans-serif' font-size="10.8" fill="#231f20" stroke="#231f20" stroke-width="0.22" textLength="115.5" lengthAdjust="spacingAndGlyphs">95% confidence interval</text>
<rect x="0" y="0" width="520" height="1" fill="#8a8a8a"/>
<rect x="0" y="0" width="1" height="572" fill="#8a8a8a"/>
<rect x="1" y="1" width="518" height="1" fill="#000"/>
<rect x="1" y="1" width="1" height="570" fill="#000"/>
<rect x="518" y="1" width="1" height="571" fill="#000"/>
<rect x="519" y="0" width="1" height="572" fill="#333"/>
<rect x="1" y="570" width="519" height="2" fill="#000"/>
</svg>
</body></html>
